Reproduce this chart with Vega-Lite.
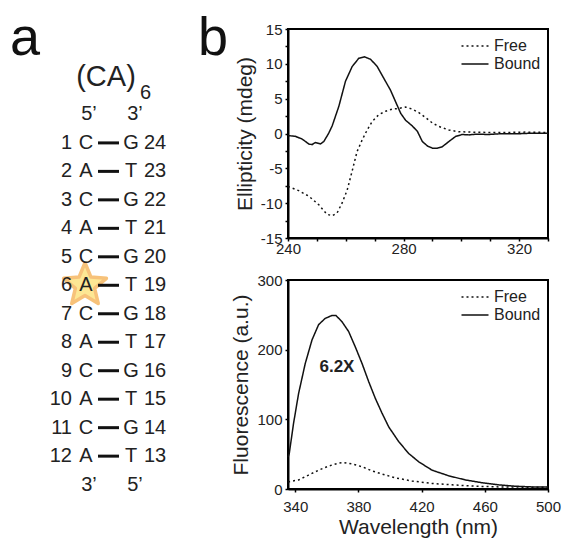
{
  "$schema": "https://vega.github.io/schema/vega-lite/v6.json",
  "padding": 0,
  "background": "white",
  "spacing": 0,
  "config": {
    "font": "Liberation Sans",
    "view": {"stroke": "black", "strokeWidth": 2},
    "axis": {"grid": false, "domainColor": "black", "domainWidth": 2, "tickColor": "black", "tickWidth": 1.5, "tickSize": 3, "labelFontSize": 15, "labelColor": "#222", "titleFontSize": 21, "titleFontWeight": "normal", "titleColor": "#222", "labelFlush": false},
    "legend": {"labelFontSize": 16, "labelColor": "#222", "symbolType": "M-1.5,0H1.5", "symbolSize": 324, "symbolStrokeWidth": 1.5, "rowPadding": 0, "labelOffset": 9, "padding": 0}
  },
  "datasets": {
    "pairs": [
      {"row": 1, "n5": "1", "b5": "C", "b3": "G", "n3": "24"},
      {"row": 2, "n5": "2", "b5": "A", "b3": "T", "n3": "23"},
      {"row": 3, "n5": "3", "b5": "C", "b3": "G", "n3": "22"},
      {"row": 4, "n5": "4", "b5": "A", "b3": "T", "n3": "21"},
      {"row": 5, "n5": "5", "b5": "C", "b3": "G", "n3": "20"},
      {"row": 6, "n5": "6", "b5": "A", "b3": "T", "n3": "19"},
      {"row": 7, "n5": "7", "b5": "C", "b3": "G", "n3": "18"},
      {"row": 8, "n5": "8", "b5": "A", "b3": "T", "n3": "17"},
      {"row": 9, "n5": "9", "b5": "C", "b3": "G", "n3": "16"},
      {"row": 10, "n5": "10", "b5": "A", "b3": "T", "n3": "15"},
      {"row": 11, "n5": "11", "b5": "C", "b3": "G", "n3": "14"},
      {"row": 12, "n5": "12", "b5": "A", "b3": "T", "n3": "13"}
    ],
    "ends": [
      {"row": 0, "left": "5\u2019", "right": "3\u2019"},
      {"row": 13, "left": "3\u2019", "right": "5\u2019"}
    ],
    "cd": [
      {"wl": 240, "value": -0.3, "state": "Bound"},
      {"wl": 242.5, "value": -0.4, "state": "Bound"},
      {"wl": 244.9, "value": -0.8, "state": "Bound"},
      {"wl": 247.2, "value": -1.5, "state": "Bound"},
      {"wl": 248.3, "value": -1.6, "state": "Bound"},
      {"wl": 249.5, "value": -1.3, "state": "Bound"},
      {"wl": 250.4, "value": -1.4, "state": "Bound"},
      {"wl": 251.2, "value": -1.5, "state": "Bound"},
      {"wl": 252.4, "value": -1.15, "state": "Bound"},
      {"wl": 254.1, "value": 0.05, "state": "Bound"},
      {"wl": 255.3, "value": 1.1, "state": "Bound"},
      {"wl": 257.6, "value": 3.9, "state": "Bound"},
      {"wl": 259.9, "value": 7.5, "state": "Bound"},
      {"wl": 262.2, "value": 9.6, "state": "Bound"},
      {"wl": 264.5, "value": 10.8, "state": "Bound"},
      {"wl": 266.5, "value": 11.0, "state": "Bound"},
      {"wl": 268.6, "value": 10.65, "state": "Bound"},
      {"wl": 270.9, "value": 9.6, "state": "Bound"},
      {"wl": 273.2, "value": 7.9, "state": "Bound"},
      {"wl": 275.5, "value": 6.2, "state": "Bound"},
      {"wl": 277.2, "value": 4.6, "state": "Bound"},
      {"wl": 279.0, "value": 2.9, "state": "Bound"},
      {"wl": 280.7, "value": 1.9, "state": "Bound"},
      {"wl": 283.0, "value": 1.1, "state": "Bound"},
      {"wl": 284.8, "value": 0.3, "state": "Bound"},
      {"wl": 286.5, "value": -1.15, "state": "Bound"},
      {"wl": 288.3, "value": -1.8, "state": "Bound"},
      {"wl": 290.0, "value": -2.1, "state": "Bound"},
      {"wl": 291.7, "value": -2.1, "state": "Bound"},
      {"wl": 293.4, "value": -1.9, "state": "Bound"},
      {"wl": 295.7, "value": -1.15, "state": "Bound"},
      {"wl": 298.0, "value": -0.43, "state": "Bound"},
      {"wl": 300.3, "value": -0.14, "state": "Bound"},
      {"wl": 302.7, "value": -0.2, "state": "Bound"},
      {"wl": 305.0, "value": -0.1, "state": "Bound"},
      {"wl": 309.6, "value": -0.14, "state": "Bound"},
      {"wl": 313.1, "value": -0.05, "state": "Bound"},
      {"wl": 318.8, "value": -0.05, "state": "Bound"},
      {"wl": 324.6, "value": 0.05, "state": "Bound"},
      {"wl": 330, "value": 0.05, "state": "Bound"},
      {"wl": 240, "value": -7.6, "state": "Free"},
      {"wl": 243.7, "value": -8.2, "state": "Free"},
      {"wl": 247.2, "value": -9.0, "state": "Free"},
      {"wl": 250.6, "value": -10.2, "state": "Free"},
      {"wl": 253.5, "value": -11.6, "state": "Free"},
      {"wl": 255.3, "value": -11.8, "state": "Free"},
      {"wl": 257.0, "value": -11.4, "state": "Free"},
      {"wl": 258.7, "value": -10.0, "state": "Free"},
      {"wl": 260.5, "value": -8.1, "state": "Free"},
      {"wl": 262.2, "value": -5.4, "state": "Free"},
      {"wl": 263.9, "value": -2.6, "state": "Free"},
      {"wl": 265.7, "value": -0.9, "state": "Free"},
      {"wl": 267.4, "value": 0.5, "state": "Free"},
      {"wl": 269.1, "value": 1.7, "state": "Free"},
      {"wl": 271.4, "value": 2.7, "state": "Free"},
      {"wl": 273.8, "value": 3.2, "state": "Free"},
      {"wl": 276.1, "value": 3.5, "state": "Free"},
      {"wl": 278.4, "value": 3.6, "state": "Free"},
      {"wl": 280.7, "value": 3.8, "state": "Free"},
      {"wl": 283.0, "value": 3.5, "state": "Free"},
      {"wl": 285.3, "value": 3.0, "state": "Free"},
      {"wl": 287.6, "value": 2.3, "state": "Free"},
      {"wl": 290.0, "value": 1.5, "state": "Free"},
      {"wl": 292.3, "value": 1.0, "state": "Free"},
      {"wl": 295.7, "value": 0.5, "state": "Free"},
      {"wl": 299.2, "value": 0.25, "state": "Free"},
      {"wl": 303.8, "value": 0.2, "state": "Free"},
      {"wl": 309.6, "value": 0.15, "state": "Free"},
      {"wl": 315.4, "value": 0.15, "state": "Free"},
      {"wl": 322.3, "value": 0.2, "state": "Free"},
      {"wl": 330, "value": 0.15, "state": "Free"}
    ],
    "fl": [
      {"wl": 335.5, "value": 46, "state": "Bound"},
      {"wl": 336.2, "value": 51, "state": "Bound"},
      {"wl": 338.9, "value": 94, "state": "Bound"},
      {"wl": 342.1, "value": 137, "state": "Bound"},
      {"wl": 346.3, "value": 180, "state": "Bound"},
      {"wl": 350.6, "value": 214, "state": "Bound"},
      {"wl": 354.8, "value": 236, "state": "Bound"},
      {"wl": 359.0, "value": 245, "state": "Bound"},
      {"wl": 363.2, "value": 249, "state": "Bound"},
      {"wl": 365.8, "value": 249, "state": "Bound"},
      {"wl": 369.6, "value": 240, "state": "Bound"},
      {"wl": 373.8, "value": 226, "state": "Bound"},
      {"wl": 378.0, "value": 204, "state": "Bound"},
      {"wl": 382.3, "value": 180, "state": "Bound"},
      {"wl": 386.5, "value": 154, "state": "Bound"},
      {"wl": 390.7, "value": 130, "state": "Bound"},
      {"wl": 394.9, "value": 109, "state": "Bound"},
      {"wl": 399.2, "value": 89, "state": "Bound"},
      {"wl": 405.5, "value": 68, "state": "Bound"},
      {"wl": 411.8, "value": 51, "state": "Bound"},
      {"wl": 418.2, "value": 39, "state": "Bound"},
      {"wl": 426.6, "value": 27, "state": "Bound"},
      {"wl": 437.1, "value": 19, "state": "Bound"},
      {"wl": 447.7, "value": 13, "state": "Bound"},
      {"wl": 458.2, "value": 9, "state": "Bound"},
      {"wl": 468.8, "value": 6, "state": "Bound"},
      {"wl": 479.3, "value": 4, "state": "Bound"},
      {"wl": 489.9, "value": 3, "state": "Bound"},
      {"wl": 500, "value": 3, "state": "Bound"},
      {"wl": 335.5, "value": 10, "state": "Free"},
      {"wl": 336.2, "value": 10.5, "state": "Free"},
      {"wl": 342.1, "value": 13, "state": "Free"},
      {"wl": 348.4, "value": 20, "state": "Free"},
      {"wl": 354.8, "value": 27, "state": "Free"},
      {"wl": 361.1, "value": 33, "state": "Free"},
      {"wl": 367.5, "value": 37, "state": "Free"},
      {"wl": 370.6, "value": 38, "state": "Free"},
      {"wl": 375.9, "value": 36, "state": "Free"},
      {"wl": 382.3, "value": 32, "state": "Free"},
      {"wl": 388.6, "value": 26, "state": "Free"},
      {"wl": 394.9, "value": 21.5, "state": "Free"},
      {"wl": 403.4, "value": 16, "state": "Free"},
      {"wl": 413.9, "value": 11.5, "state": "Free"},
      {"wl": 426.6, "value": 8, "state": "Free"},
      {"wl": 439.2, "value": 6, "state": "Free"},
      {"wl": 454.0, "value": 4, "state": "Free"},
      {"wl": 468.8, "value": 3, "state": "Free"},
      {"wl": 489.9, "value": 2.5, "state": "Free"},
      {"wl": 500, "value": 2.5, "state": "Free"}
    ]
  },
  "resolve": {"scale": {"strokeDash": "independent"}, "legend": {"strokeDash": "independent"}},
  "hconcat": [
    {
      "width": 229,
      "height": 512,
      "view": {"stroke": null},
      "layer": [
        {
          "data": {"name": "pairs"},
          "transform": [{"filter": "datum.row == 6"}],
          "mark": {"type": "point", "shape": "M0,-1L0.265,-0.364L0.951,-0.309L0.428,0.139L0.588,0.809L0,0.45L-0.588,0.809L-0.428,0.139L-0.951,-0.309L-0.265,-0.364Z", "filled": true, "color": "#fde794", "stroke": "#f7c27a", "strokeWidth": 3.5, "strokeJoin": "round", "size": 2025, "opacity": 1},
          "encoding": {
            "x": {"datum": 85, "type": "quantitative", "scale": {"domain": [0, 229], "nice": false, "zero": false}, "axis": null},
            "y": {"field": "row", "type": "quantitative", "scale": {"domain": [-3, 14.98], "reverse": true, "nice": false, "zero": false}, "axis": null}
          }
        },
        {
          "data": {"name": "pairs"},
          "mark": {"type": "text", "align": "right", "baseline": "middle", "fontSize": 20, "color": "#222"},
          "encoding": {
            "x": {"datum": 72, "type": "quantitative"},
            "y": {"field": "row", "type": "quantitative"},
            "text": {"field": "n5", "type": "nominal"}
          }
        },
        {
          "data": {"name": "pairs"},
          "mark": {"type": "text", "align": "center", "baseline": "middle", "fontSize": 20, "color": "#222"},
          "encoding": {
            "x": {"datum": 86, "type": "quantitative"},
            "y": {"field": "row", "type": "quantitative"},
            "text": {"field": "b5", "type": "nominal"}
          }
        },
        {
          "data": {"name": "pairs"},
          "mark": {"type": "rule", "strokeWidth": 3, "color": "#111"},
          "encoding": {
            "x": {"datum": 98, "type": "quantitative"},
            "x2": {"datum": 119},
            "y": {"field": "row", "type": "quantitative"}
          }
        },
        {
          "data": {"name": "pairs"},
          "mark": {"type": "text", "align": "center", "baseline": "middle", "fontSize": 20, "color": "#222"},
          "encoding": {
            "x": {"datum": 131, "type": "quantitative"},
            "y": {"field": "row", "type": "quantitative"},
            "text": {"field": "b3", "type": "nominal"}
          }
        },
        {
          "data": {"name": "pairs"},
          "mark": {"type": "text", "align": "left", "baseline": "middle", "fontSize": 20, "color": "#222"},
          "encoding": {
            "x": {"datum": 144, "type": "quantitative"},
            "y": {"field": "row", "type": "quantitative"},
            "text": {"field": "n3", "type": "nominal"}
          }
        },
        {
          "data": {"name": "ends"},
          "mark": {"type": "text", "align": "center", "baseline": "middle", "fontSize": 20, "color": "#222"},
          "encoding": {
            "x": {"datum": 89, "type": "quantitative"},
            "y": {"field": "row", "type": "quantitative"},
            "text": {"field": "left", "type": "nominal"}
          }
        },
        {
          "data": {"name": "ends"},
          "mark": {"type": "text", "align": "center", "baseline": "middle", "fontSize": 20, "color": "#222"},
          "encoding": {
            "x": {"datum": 135, "type": "quantitative"},
            "y": {"field": "row", "type": "quantitative"},
            "text": {"field": "right", "type": "nominal"}
          }
        },
        {
          "data": {"values": [{"label": "(CA)"}]},
          "mark": {"type": "text", "align": "center", "baseline": "middle", "fontSize": 29, "color": "#222"},
          "encoding": {
            "x": {"datum": 106, "type": "quantitative"},
            "y": {"datum": -1.33, "type": "quantitative"},
            "text": {"field": "label", "type": "nominal"}
          }
        },
        {
          "data": {"values": [{"label": "6"}]},
          "mark": {"type": "text", "align": "left", "baseline": "middle", "fontSize": 20, "color": "#222"},
          "encoding": {
            "x": {"datum": 140, "type": "quantitative"},
            "y": {"datum": -0.75, "type": "quantitative"},
            "text": {"field": "label", "type": "nominal"}
          }
        },
        {
          "data": {"values": [{"label": "a"}]},
          "mark": {"type": "text", "align": "center", "baseline": "alphabetic", "fontSize": 54, "color": "#111"},
          "encoding": {
            "x": {"datum": 25, "type": "quantitative"},
            "y": {"datum": -2.1, "type": "quantitative"},
            "text": {"field": "label", "type": "nominal"}
          }
        },
        {
          "data": {"values": [{"label": "b"}]},
          "mark": {"type": "text", "align": "center", "baseline": "alphabetic", "fontSize": 54, "color": "#111"},
          "encoding": {
            "x": {"datum": 213, "type": "quantitative"},
            "y": {"datum": -2.1, "type": "quantitative"},
            "text": {"field": "label", "type": "nominal"}
          }
        }
      ]
    },
    {
      "spacing": 15,
      "resolve": {"scale": {"strokeDash": "independent"}, "legend": {"strokeDash": "independent"}},
      "vconcat": [
        {
          "width": 260,
          "height": 209,
          "title": {"text": "-", "fontSize": 15, "offset": 6, "color": "white"},
          "data": {"name": "cd"},
          "mark": {"type": "line", "strokeWidth": 1.5, "color": "#111"},
          "encoding": {
            "x": {
              "field": "wl", "type": "quantitative",
              "scale": {"domain": [240, 330], "nice": false, "zero": false},
              "axis": {"title": null, "values": [240, 250, 260, 270, 280, 290, 300, 310, 320, 330], "labelExpr": "datum.value % 40 == 0 ? '' + datum.value : ''", "labelPadding": 0}
            },
            "y": {
              "field": "value", "type": "quantitative",
              "scale": {"domain": [-15, 15], "nice": false, "zero": false},
              "axis": {"title": "Ellipticity (mdeg)", "values": [-15, -12.5, -10, -7.5, -5, -2.5, 0, 2.5, 5, 7.5, 10, 12.5, 15], "labelExpr": "datum.value % 5 == 0 ? '' + datum.value : ''", "labelPadding": 3, "titlePadding": 5}
            },
            "strokeDash": {
              "field": "state", "type": "nominal",
              "scale": {"domain": ["Free", "Bound"], "range": [[2, 3], [1, 0]]},
              "legend": {"title": null, "orient": "top-right", "offset": 7}
            }
          }
        },
        {
          "width": 260,
          "height": 209,
          "layer": [
            {
              "data": {"name": "fl"},
              "mark": {"type": "line", "strokeWidth": 1.5, "color": "#111"},
              "encoding": {
                "x": {
                  "field": "wl", "type": "quantitative",
                  "scale": {"domain": [335.4, 500], "nice": false, "zero": false},
                  "axis": {"title": "Wavelength (nm)", "values": [340, 350, 360, 370, 380, 390, 400, 410, 420, 430, 440, 450, 460, 470, 480, 490, 500], "labelExpr": "(datum.value - 340) % 40 == 0 ? '' + datum.value : ''", "labelPadding": 7, "titlePadding": 2}
                },
                "y": {
                  "field": "value", "type": "quantitative",
                  "scale": {"domain": [0, 300], "nice": false},
                  "axis": {"title": "Fluorescence (a.u.)", "values": [0, 50, 100, 150, 200, 250, 300], "labelExpr": "datum.value % 100 == 0 ? '' + datum.value : ''", "labelPadding": 3, "titlePadding": 5}
                },
                "strokeDash": {
                  "field": "state", "type": "nominal",
                  "scale": {"domain": ["Free", "Bound"], "range": [[2, 3], [1, 0]]},
                  "legend": {"title": null, "orient": "top-right", "offset": 7}
                }
              }
            },
            {
              "data": {"values": [{"label": "6.2X"}]},
              "mark": {"type": "text", "fontSize": 17, "fontWeight": "bold", "color": "#222", "align": "center", "baseline": "middle"},
              "encoding": {
                "x": {"datum": 366.4, "type": "quantitative"},
                "y": {"datum": 175.6, "type": "quantitative"},
                "text": {"field": "label", "type": "nominal"}
              }
            }
          ]
        }
      ]
    }
  ]
}
